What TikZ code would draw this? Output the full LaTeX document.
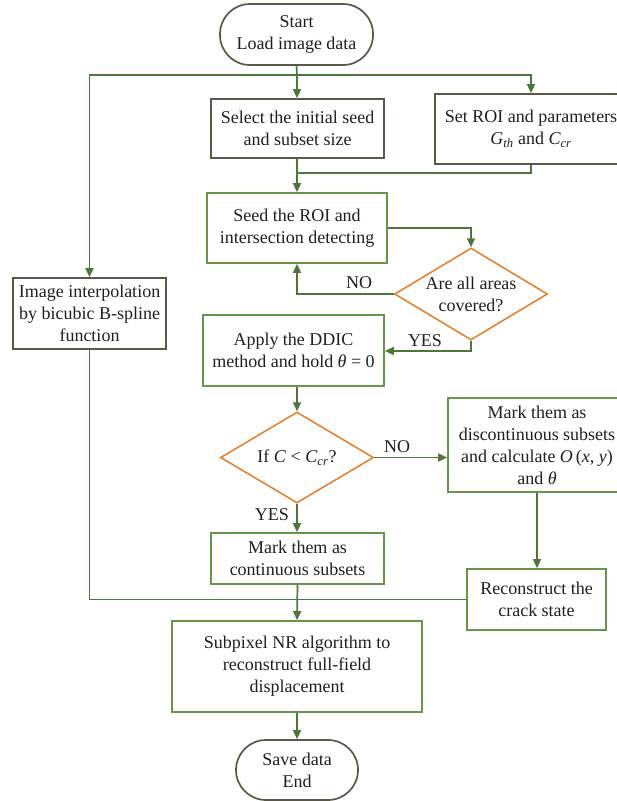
\documentclass[tikz,border=0pt]{standalone}
\usepackage{fontspec}
\setmainfont{Liberation Serif}
\usetikzlibrary{arrows.meta,shapes.geometric}
\definecolor{boxgreen}{RGB}{104,150,72}
\definecolor{linegreen}{RGB}{78,118,58}
\definecolor{boxgray}{RGB}{92,88,72}
\definecolor{diaorange}{RGB}{228,124,42}
\tikzset{
  base/.style={font=\fontsize{18}{22}\selectfont, align=center, inner sep=0pt, line width=1.7pt, text=black!88},
  graybox/.style={base, draw=boxgray, rectangle},
  greenbox/.style={base, draw=boxgreen, rectangle},
  term/.style={base, draw=boxgray, rectangle, rounded corners=30pt},
  dia/.style={draw=diaorange, diamond, line width=1.5pt, inner sep=0pt},
  ttext/.style={font=\fontsize{18}{22}\selectfont, align=center, text=black!88, inner sep=0pt},
  conn/.style={draw=linegreen, line width=1.7pt},
  arr/.style={conn, -{Triangle[length=9pt,width=8pt]}},
  lbl/.style={font=\fontsize{18}{22}\selectfont, text=black!88, inner sep=0pt}
}
\begin{document}
\begin{tikzpicture}[x=1pt,y=-1pt]
\useasboundingbox (0,0) rectangle (617,801);
% nodes
\node[term, minimum width=153pt, minimum height=61pt] (start) at (296.5,34.5) {Start\\Load image data};
\node[graybox, minimum width=173pt, minimum height=59pt] (select) at (297.5,128.5) {Select the initial seed\\and subset size};
\node[graybox, minimum width=192pt, minimum height=70pt] (roi) at (531,129) {Set ROI and parameters\\\textit{G\textsubscript{th}} and \textit{C\textsubscript{cr}}};
\node[greenbox, minimum width=180pt, minimum height=70pt] (seed) at (297,228) {Seed the ROI and\\intersection detecting};
\node[dia, minimum width=153pt, minimum height=92pt] (d1) at (471,294) {};
\node[ttext] (d1t) at (d1) {Are all areas\\covered?};
\node[graybox, minimum width=153pt, minimum height=71pt] (interp) at (89.5,313.5) {Image interpolation\\by bicubic B-spline\\function};
\node[greenbox, minimum width=181pt, minimum height=71pt] (apply) at (293.5,350.5) {Apply the DDIC\\method and hold \textit{θ} = 0};
\node[dia, minimum width=153pt, minimum height=91pt] (d2) at (297,457.5) {};
\node[ttext] (d2t) at (d2) {If \textit{C} < \textit{C}\textsubscript{\textit{cr}}?};
\node[greenbox, minimum width=178pt, minimum height=94pt] (disc) at (537,445) {Mark them as\\discontinuous subsets\\and calculate \textit{O}\,(\textit{x}, \textit{y})\\and \textit{θ}};
\node[greenbox, minimum width=173pt, minimum height=51pt] (cont) at (297.5,558.5) {Mark them as\\continuous subsets};
\node[greenbox, minimum width=139pt, minimum height=61pt] (recon) at (536.5,599.5) {Reconstruct the\\crack state};
\node[greenbox, minimum width=250pt, minimum height=91pt] (sub) at (297,666.5) {Subpixel NR algorithm to\\reconstruct full-field\\displacement};
\node[term, minimum width=122pt, minimum height=60pt] (end) at (297,770) {Save data\\End};
% coordinates
\coordinate (br) at (297,75);
\coordinate (mg) at (297,173);
% connectors
\draw[conn] (start.south) -- (br);
\draw[arr] (br) -- (select.north -| br);
\draw[arr] (br) -| (interp.north);
\draw[arr] (br) -| (roi.north);
\draw[arr] (select.south -| br) -- (seed.north -| br);
\draw[conn] (roi.south) |- (mg);
\draw[arr] (seed.east) -| (d1.north);
\draw[arr] (d1.west) -| (seed.south -| br);
\node[lbl] (no1) at (359,283) {NO};
\draw[arr] (d1.south) |- (apply.east |- 0,351);
\node[lbl] (yes1) at (425,341) {YES};
\draw[arr] (apply.south -| d2.north) -- (d2.north);
\draw[arr] (d2.east) -- (disc.west |- d2.east);
\node[lbl] (no2) at (397,447) {NO};
\draw[arr] (d2.south) -- (cont.north -| d2.south);
\node[lbl] (yes2) at (272,515) {YES};
\draw[arr] (disc.south) -- (recon.north -| disc.south);
\draw[conn] (interp.south) |- (recon.west);
\draw[arr] (cont.south) -- (sub.north);
\draw[arr] (sub.south) -- (end.north);
\end{tikzpicture}
\end{document}
